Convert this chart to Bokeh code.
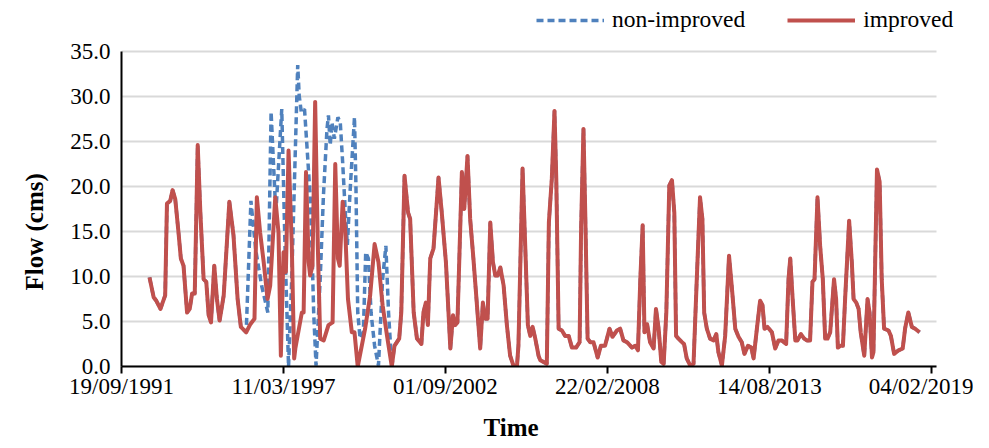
from datetime import datetime
from bokeh.plotting import figure
from bokeh.models import (Range1d, FixedTicker, DatetimeTickFormatter, NumeralTickFormatter,
                          Legend, LegendItem, ColumnDataSource, Title)
from bokeh.embed import file_html
from bokeh.resources import INLINE

# ---------------- data (time in decimal years, flow in cms) ----------------
improved_t = [
    1992.66, 1992.80, 1992.89, 1993.03, 1993.19, 1993.25, 1993.36, 1993.44, 1993.53, 1993.64,
    1993.72, 1993.81, 1993.93, 1994.02, 1994.10, 1994.19, 1994.29, 1994.38, 1994.49, 1994.58,
    1994.66, 1994.74, 1994.85, 1994.94, 1995.03, 1995.17, 1995.36, 1995.50, 1995.64, 1995.75,
    1995.93, 1996.07, 1996.21, 1996.29, 1996.40, 1996.52, 1996.65, 1996.74, 1996.91, 1997.02,
    1997.10, 1997.19, 1997.27, 1997.36, 1997.47, 1997.55, 1997.59, 1997.81, 1997.87, 1997.95,
    1998.04, 1998.09, 1998.17, 1998.26, 1998.35, 1998.43, 1998.55, 1998.71, 1998.85, 1998.94,
    1999.03, 1999.09, 1999.19, 1999.28, 1999.37, 1999.50, 1999.59, 1999.70, 1999.95, 2000.12,
    2000.27, 2000.40, 2000.54, 2000.69, 2000.85, 2000.94, 2001.10, 2001.17, 2001.28, 2001.40,
    2001.47, 2001.59, 2001.70, 2001.85, 2001.92, 2002.00, 2002.07, 2002.15, 2002.26, 2002.43,
    2002.54, 2002.68, 2002.83, 2002.92, 2002.99, 2003.07, 2003.22, 2003.30, 2003.41, 2003.50,
    2003.61, 2003.73, 2003.84, 2003.93, 2004.01, 2004.09, 2004.18, 2004.27, 2004.35, 2004.43,
    2004.52, 2004.63, 2004.74, 2004.85, 2004.97, 2005.08, 2005.13, 2005.27, 2005.36, 2005.45,
    2005.53, 2005.61, 2005.70, 2005.81, 2005.87, 2006.09, 2006.16, 2006.26, 2006.35, 2006.41,
    2006.49, 2006.60, 2006.71, 2006.83, 2006.94, 2007.08, 2007.20, 2007.25, 2007.33, 2007.39,
    2007.47, 2007.56, 2007.67, 2007.81, 2007.92, 2008.06, 2008.21, 2008.31, 2008.46, 2008.57,
    2008.68, 2008.80, 2008.97, 2009.08, 2009.17, 2009.25, 2009.33, 2009.39, 2009.48, 2009.58,
    2009.70, 2009.78, 2009.87, 2009.96, 2010.04, 2010.13, 2010.23, 2010.32, 2010.40, 2010.46,
    2010.54, 2010.66, 2010.73, 2010.82, 2010.94, 2011.05, 2011.16, 2011.27, 2011.35, 2011.41,
    2011.50, 2011.61, 2011.73, 2011.82, 2011.89, 2012.01, 2012.12, 2012.25, 2012.34, 2012.46,
    2012.57, 2012.68, 2012.77, 2012.89, 2013.00, 2013.08, 2013.19, 2013.30, 2013.38, 2013.45,
    2013.55, 2013.70, 2013.81, 2013.92, 2014.03, 2014.18, 2014.26, 2014.32, 2014.40, 2014.49,
    2014.56, 2014.68, 2014.79, 2014.88, 2014.99, 2015.07, 2015.14, 2015.24, 2015.33, 2015.42,
    2015.50, 2015.58, 2015.67, 2015.80, 2015.87, 2015.93, 2016.01, 2016.10, 2016.18, 2016.31,
    2016.40, 2016.46, 2016.55, 2016.63, 2016.70, 2016.82, 2016.93, 2017.00, 2017.08, 2017.13,
    2017.25, 2017.34, 2017.41, 2017.49, 2017.64, 2017.72, 2017.83, 2017.98, 2018.12, 2018.20,
    2018.31, 2018.43, 2018.54, 2018.69,
]
improved_v = [
    9.9, 7.7, 7.3, 6.4, 7.9, 18.1, 18.4, 19.6, 18.6, 14.9,
    12.0, 11.2, 6.0, 6.4, 8.1, 8.1, 24.6, 17.1, 9.7, 9.4,
    5.7, 4.9, 11.2, 7.5, 5.1, 7.9, 18.3, 14.6, 7.5, 4.4,
    3.8, 4.7, 5.3, 18.8, 14.9, 11.6, 7.5, 9.0, 18.8, 14.9,
    1.2, 12.7, 10.5, 24.0, 13.4, 0.9, 2.0, 6.0, 6.0, 21.6,
    11.6, 10.1, 11.2, 29.4, 13.4, 3.1, 2.9, 4.6, 4.9, 22.5,
    12.0, 11.2, 18.3, 14.9, 7.5, 3.8, 3.8, 0.0, 4.2, 7.9,
    13.6, 11.6, 6.8, 3.4, 0.0, 2.3, 3.1, 6.0, 21.2, 17.1,
    16.4, 6.0, 3.1, 2.5, 6.0, 7.1, 4.6, 12.0, 13.1, 21.0,
    17.1, 11.6, 2.0, 5.7, 4.6, 4.9, 21.6, 17.5, 23.4, 16.4,
    12.0, 6.8, 2.0, 7.1, 5.3, 5.3, 16.0, 11.6, 10.1, 10.1,
    11.0, 9.0, 4.6, 1.2, 0.0, 0.0, 2.3, 22.0, 13.4, 4.6,
    3.4, 4.4, 3.1, 1.2, 0.7, 0.3, 16.0, 20.9, 28.4, 20.9,
    4.2, 4.0, 3.4, 3.4, 2.1, 2.1, 2.7, 15.3, 26.4, 17.1,
    3.1, 2.7, 2.7, 1.0, 2.3, 2.3, 4.2, 3.3, 4.0, 4.2,
    2.9, 2.7, 2.1, 2.3, 1.8, 9.7, 15.7, 3.8, 4.7, 2.7,
    2.0, 6.4, 4.2, 0.5, 0.3, 6.0, 20.1, 20.7, 17.1, 3.4,
    3.1, 2.7, 2.5, 0.9, 0.1, 0.3, 9.7, 18.8, 16.4, 6.0,
    4.2, 3.1, 2.9, 3.6, 1.6, 0.1, 3.4, 12.3, 9.0, 4.2,
    3.3, 2.7, 1.4, 2.3, 2.1, 0.9, 4.2, 7.3, 6.8, 4.2,
    4.4, 3.8, 2.0, 2.9, 2.9, 2.5, 9.7, 12.0, 7.5, 2.9,
    2.9, 3.6, 3.1, 2.9, 2.9, 9.4, 9.7, 18.8, 13.4, 9.7,
    3.1, 3.1, 3.8, 9.7, 7.5, 2.1, 2.3, 2.3, 7.9, 16.2,
    11.6, 7.5, 7.1, 6.4, 3.8, 1.2, 7.5, 6.0, 1.0, 1.6,
    21.9, 20.5, 9.7, 4.2, 4.0, 3.4, 1.4, 1.8, 2.0, 4.2,
    6.0, 4.4, 4.2, 3.8,
]

# non-improved series differs from the improved one only between these points
non_improved_mid_t = [
    1996.09, 1996.25, 1996.45, 1996.66, 1996.77, 1996.93, 1997.13, 1997.25, 1997.36, 1997.47,
    1997.67, 1997.72, 1997.79, 1997.90, 1997.98, 1998.09, 1998.15, 1998.21, 1998.29, 1998.43,
    1998.54, 1998.66, 1998.71, 1998.77, 1998.83, 1998.91, 1999.03, 1999.11, 1999.19, 1999.28,
    1999.35, 1999.45, 1999.59, 1999.64, 1999.70, 1999.78, 1999.89, 1999.97, 2000.06, 2000.15,
    2000.27, 2000.40, 2000.54, 2000.65, 2000.74,
]
non_improved_mid_v = [
    18.4, 13.0, 9.0, 6.0, 28.3, 17.0, 28.6, 12.0, 0.0, 10.0,
    33.5, 30.1, 28.3, 28.6, 24.6, 19.0, 13.4, 6.0, 0.1, 9.7,
    19.0, 26.4, 27.9, 24.6, 27.1, 25.3, 27.7, 27.1, 22.7, 17.1,
    13.5, 20.0, 27.7, 20.0, 6.0, 3.1, 3.8, 12.7, 12.0, 6.0,
    2.3, 0.1, 9.7, 13.4, 6.0,
]
split_start, split_end = 1995.93, 2000.85

series_names = ["non-improved", "improved"]
tick_dates = ["19/09/1991", "11/03/1997", "01/09/2002", "22/02/2008", "14/08/2013", "04/02/2019"]
y_ticks = [0, 5, 10, 15, 20, 25, 30, 35]
axis_end_date = "07/04/2019"

# ---------------- helpers ----------------
def dec_to_dt(y):
    yr = int(y)
    a, b = datetime(yr, 1, 1), datetime(yr + 1, 1, 1)
    return a + (b - a) * (y - yr)

def ms(dt):
    return (dt - datetime(1970, 1, 1)).total_seconds() * 1000.0

non_t, non_v = [], []
for t, v in zip(improved_t, improved_v):
    if t <= split_start:
        non_t.append(t); non_v.append(v)
non_t += non_improved_mid_t
non_v += non_improved_mid_v
for t, v in zip(improved_t, improved_v):
    if t >= split_end:
        non_t.append(t); non_v.append(v)

src_imp = ColumnDataSource(dict(x=[dec_to_dt(t) for t in improved_t], y=improved_v))
src_non = ColumnDataSource(dict(x=[dec_to_dt(t) for t in non_t], y=non_v))

tick_dt = [datetime.strptime(s, "%d/%m/%Y") for s in tick_dates]
x_start = tick_dt[0]
x_axis_end = datetime.strptime(axis_end_date, "%d/%m/%Y")

FONT = "Liberation Serif"
BLUE = "#4F81BD"
RED = "#C0504D"

# plot area of the chart proper: 815 x 315 px; the frame is extended upward and to the
# right so that the legend (which sits above / beyond the plot area) is not clipped
AREA_W, AREA_H = 815, 315
FRAME_W, FRAME_H = 841, 366
x_range_end = x_start + (x_axis_end - x_start) * (FRAME_W / AREA_W)
y_range_end = max(y_ticks) * FRAME_H / AREA_H

p = figure(frame_width=FRAME_W, frame_height=FRAME_H, x_axis_type="datetime",
           x_range=Range1d(x_start, x_range_end), y_range=Range1d(0, y_range_end),
           output_backend="svg", toolbar_location=None,
           min_border_left=121, min_border_right=11, min_border_top=0, min_border_bottom=60)
p.outline_line_color = None
p.background_fill_color = "white"
p.border_fill_color = "white"

# horizontal gridlines limited to the plot area
p.xgrid.grid_line_color = None
p.ygrid.grid_line_color = None
p.segment(x0=[x_start] * len(y_ticks), x1=[x_axis_end] * len(y_ticks),
          y0=y_ticks, y1=y_ticks, line_color="#D9D9D9", line_width=2, level="underlay")

rb = p.line("x", "y", source=src_non, line_color=BLUE, line_width=3.5, line_dash="7 4")
rr = p.line("x", "y", source=src_imp, line_color=RED, line_width=4, line_join="round")

# x axis
xa = p.xaxis[0]
xa.bounds = (x_start, x_axis_end)
xa.ticker = FixedTicker(ticks=[ms(d) for d in tick_dt])
xa.formatter = DatetimeTickFormatter(days="%d/%m/%Y", months="%d/%m/%Y", years="%d/%m/%Y")
xa.axis_line_color = "black"
xa.axis_line_width = 2
xa.major_tick_line_color = "black"
xa.major_tick_line_width = 2
xa.major_tick_in = 0
xa.major_tick_out = 7
xa.minor_tick_line_color = None
xa.major_label_standoff = 0
xa.major_label_text_font = FONT
xa.major_label_text_font_size = "23px"
xa.major_label_text_color = "black"

# y axis
ya = p.yaxis[0]
ya.bounds = (0, max(y_ticks))
ya.ticker = FixedTicker(ticks=y_ticks)
ya.formatter = NumeralTickFormatter(format="0.0")
ya.axis_line_color = "black"
ya.axis_line_width = 2
ya.major_tick_line_color = None
ya.minor_tick_line_color = None
ya.major_label_standoff = 5
ya.major_label_text_font = FONT
ya.major_label_text_font_size = "23px"
ya.major_label_text_color = "black"

# axis titles, placed against the plot area (not the extended frame)
p.add_layout(Title(text="Flow (cms)", align="left", offset=76, standoff=37,
                   vertical_align="middle",
                   text_font=FONT, text_font_style="bold", text_font_size="25px",
                   text_color="black"), "left")
p.add_layout(Title(text="Time", align="left", offset=362, standoff=20,
                   text_font=FONT, text_font_style="bold", text_font_size="25px",
                   text_color="black"), "below")

legend = Legend(items=[LegendItem(label=series_names[0], renderers=[rb]),
                       LegendItem(label=series_names[1], renderers=[rr])],
                orientation="horizontal", location=(415, 333),
                label_text_font=FONT, label_text_font_size="23.5px", label_text_color="black",
                glyph_width=68, glyph_height=24, label_height=24, label_standoff=8,
                spacing=42, padding=0, margin=0,
                background_fill_alpha=0, border_line_color=None)
p.add_layout(legend)

open("out.html", "w").write(file_html(p, INLINE))
